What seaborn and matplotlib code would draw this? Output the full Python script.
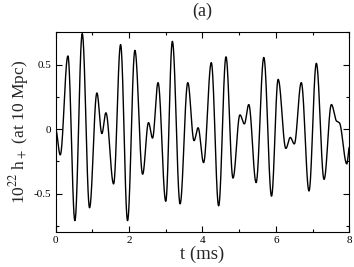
import matplotlib
matplotlib.use("Agg")
import matplotlib.pyplot as plt
from matplotlib.ticker import MultipleLocator
import seaborn as sns
import numpy as np
import pandas as pd

# turning points of the waveform (t in ms, h in 1e-22)
t_ext = [0.00, 0.127, 0.336, 0.526, 0.726, 0.925, 1.125, 1.26, 1.37, 1.58,
         1.77, 1.96, 2.16, 2.37, 2.53, 2.64, 2.79, 3.00, 3.18, 3.39,
         3.60, 3.77, 3.88, 4.03, 4.24, 4.44, 4.64, 4.83, 5.02, 5.14,
         5.26, 5.46, 5.67, 5.88, 6.06, 6.27, 6.39, 6.50, 6.69, 6.90,
         7.10, 7.31, 7.51, 7.66, 7.72, 7.93, 8.00]
h_ext = [0.00, -0.20, 0.567, -0.71, 0.74, -0.61, 0.28, -0.035, 0.126, -0.425,
         0.655, -0.71, 0.61, -0.35, 0.05, -0.07, 0.36, -0.56, 0.68, -0.58,
         0.36, -0.09, 0.01, -0.26, 0.515, -0.595, 0.56, -0.38, 0.11, 0.04,
         0.19, -0.415, 0.555, -0.52, 0.385, -0.15, -0.065, -0.115, 0.36, -0.48,
         0.51, -0.39, 0.19, 0.06, 0.05, -0.27, -0.14]

# smooth the curve between turning points (half-cosine easing)
tt, hh = [], []
for i in range(len(t_ext) - 1):
    s = np.linspace(0, 1, 30, endpoint=False)
    w = (1 - np.cos(np.pi * s)) / 2
    tt.extend(t_ext[i] + (t_ext[i + 1] - t_ext[i]) * s)
    hh.extend(h_ext[i] + (h_ext[i + 1] - h_ext[i]) * w)
tt.append(t_ext[-1])
hh.append(h_ext[-1])
df = pd.DataFrame({"t": tt, "h": hh})

sns.set_theme(style="ticks")
plt.rcParams["font.family"] = ["Liberation Serif", "DejaVu Serif"]
plt.rcParams["mathtext.fontset"] = "stix"

fig = plt.figure(figsize=(3.54, 2.67), dpi=100)
ax = fig.add_axes([0.157, 0.130, 0.830, 0.749])

sns.lineplot(data=df, x="t", y="h", ax=ax, color="black", linewidth=1.0,
             sort=False, estimator=None)

ax.set_xlim(0, 8)
ax.set_ylim(-0.8, 0.75)
ax.xaxis.set_minor_locator(MultipleLocator(1))
ax.yaxis.set_minor_locator(MultipleLocator(0.25))
ax.set_xticks([0, 2, 4, 6, 8])
ax.set_xticklabels(["0", "2", "4", "6", "8"])
ax.set_yticks([-0.5, 0, 0.5])
ax.set_yticklabels(["-0.5", "0", "0.5"])

ax.tick_params(which="both", direction="in", top=True, right=True,
               labelsize=8, colors="black", width=0.8, pad=3)
ax.tick_params(which="major", length=4)
ax.tick_params(which="minor", length=2.5)
for sp in ax.spines.values():
    sp.set_visible(True)
    sp.set_color("black")
    sp.set_linewidth(0.8)

ax.set_xlabel("t (ms)", fontsize=13.5, labelpad=0)
ax.set_ylabel(r"10$^{22}$ h$_+$ (at 10 Mpc)", fontsize=12.5, labelpad=2)
ax.set_title("(a)", fontsize=13, pad=12)

fig.savefig("out.png", dpi=100)
